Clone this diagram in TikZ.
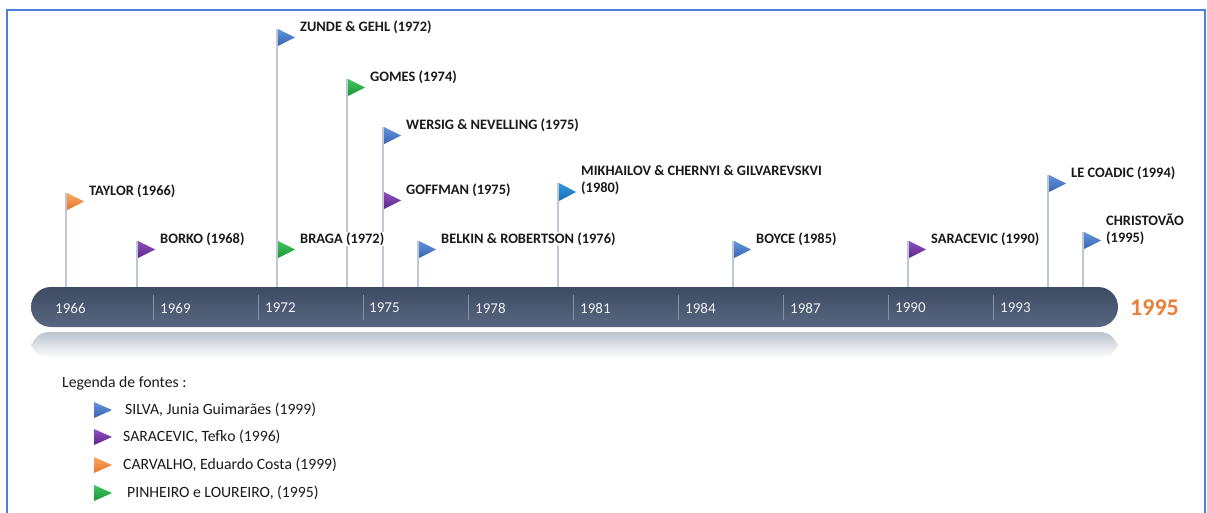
\documentclass[tikz,border=0pt]{standalone}
\usepackage{fontspec}
\setmainfont{Carlito}
\usepackage{xcolor}
\usetikzlibrary{calc, positioning}
\definecolor{cframe}{HTML}{4A7FDE}
\definecolor{cbartop}{HTML}{3D4B63}
\definecolor{cbarbot}{HTML}{58677F}
\definecolor{cbarsep}{HTML}{8491A6}
\definecolor{crefl}{HTML}{BCC3CD}
\definecolor{cpole}{HTML}{BFC7D2}
\definecolor{ctext}{HTML}{1A1A1A}
\definecolor{cyear}{HTML}{EEF1F5}
\definecolor{cend}{HTML}{E8803A}
\definecolor{cblueA}{HTML}{6394DE}
\definecolor{cblueB}{HTML}{3A64B2}
\definecolor{cskyA}{HTML}{2F9AE4}
\definecolor{cskyB}{HTML}{176DB6}
\definecolor{cpurA}{HTML}{9050BE}
\definecolor{cpurB}{HTML}{5E258E}
\definecolor{corgA}{HTML}{F9A865}
\definecolor{corgB}{HTML}{E6742A}
\definecolor{cgrnA}{HTML}{40C660}
\definecolor{cgrnB}{HTML}{1B9638}

\begin{document}
\begin{tikzpicture}[x=1pt, y=-1pt]
    \useasboundingbox (0,0) rectangle (1207,513);
    \begin{scope}[
        pole/.style={draw=cpole, line width=1.4pt},
        barsep/.style={draw=cbarsep, line width=0.8pt},
        flaglabel/.style={anchor=west, fill=white, inner sep=1pt, align=left, font=\fontsize{14.4}{17}\selectfont\bfseries\color{ctext}},
        yearlabel/.style={anchor=west, inner sep=0pt, font=\fontsize{15}{18}\selectfont\color{cyear}},
        legendtext/.style={anchor=west, inner sep=0pt, font=\fontsize{15.7}{18}\selectfont\color{ctext}},
        fblue/.style={top color=cblueA, bottom color=cblueB},
        fsky/.style={top color=cskyA, bottom color=cskyB},
        fpur/.style={top color=cpurA, bottom color=cpurB},
        forg/.style={top color=corgA, bottom color=corgB},
        fgrn/.style={top color=cgrnA, bottom color=cgrnB}
    ]
        % ================= FRAME =================
        \draw[cframe, line width=2pt] (7,513) -- (7,10) -- (1205,10) -- (1205,513);

        % ================= TIME BAR =================
        \shade[top color=crefl, middle color=crefl!25!white, bottom color=white, rounded corners=18pt] (31,332) rectangle (1118,358);
        \node[rounded corners=20pt, minimum width=1087pt, minimum height=40pt, inner sep=0pt, top color=cbartop, bottom color=cbarbot] (bar) at (574.5,307) {};
        \draw[barsep] (153,295) -- (153,320);
        \draw[barsep] (258,295) -- (258,320);
        \draw[barsep] (363,295) -- (363,320);
        \draw[barsep] (468,295) -- (468,320);
        \draw[barsep] (573,295) -- (573,320);
        \draw[barsep] (678,295) -- (678,320);
        \draw[barsep] (783,295) -- (783,320);
        \draw[barsep] (888,295) -- (888,320);
        \draw[barsep] (993,295) -- (993,320);
        \node[yearlabel] (y1966) at (55,308) {1966};
        \node[yearlabel] (y1969) at (160,308) {1969};
        \node[yearlabel] (y1972) at (265,308) {1972};
        \node[yearlabel] (y1975) at (369,308) {1975};
        \node[yearlabel] (y1978) at (475,308) {1978};
        \node[yearlabel] (y1981) at (580,308) {1981};
        \node[yearlabel] (y1984) at (685,308) {1984};
        \node[yearlabel] (y1987) at (790,308) {1987};
        \node[yearlabel] (y1990) at (895,308) {1990};
        \node[yearlabel] (y1993) at (1000,308) {1993};
        \node[anchor=west, inner sep=0pt, font=\fontsize{24}{26}\selectfont\bfseries\color{cend}] (y1995) at (1130,308) {1995};

        % ================= POLES =================
        \coordinate (taylor) at (66,193);
        \coordinate (borko) at (137,241);
        \coordinate (zunde) at (277,29);
        \coordinate (braga) at (277,241);
        \coordinate (gomes) at (347,79);
        \coordinate (wersig) at (383,127);
        \coordinate (goffman) at (383,192);
        \coordinate (belkin) at (418,241);
        \coordinate (mikhailov) at (558,183);
        \coordinate (boyce) at (733,241);
        \coordinate (saracevic) at (908,241);
        \coordinate (lecoadic) at (1048,175);
        \coordinate (christovao) at (1083,232);
        \draw[pole] (taylor) -- (taylor |- bar.north);
        \draw[pole] (borko) -- (borko |- bar.north);
        \draw[pole] (zunde) -- (zunde |- bar.north);
        \draw[pole] (gomes) -- (gomes |- bar.north);
        \draw[pole] (wersig) -- (wersig |- bar.north);
        \draw[pole] (belkin) -- (belkin |- bar.north);
        \draw[pole] (mikhailov) -- (mikhailov |- bar.north);
        \draw[pole] (boyce) -- (boyce |- bar.north);
        \draw[pole] (saracevic) -- (saracevic |- bar.north);
        \draw[pole] (lecoadic) -- (lecoadic |- bar.north);
        \draw[pole] (christovao) -- (christovao |- bar.north);

        % ================= LABELS =================
        \node[flaglabel] (taylor_lbl) at ([xshift=22pt,yshift=2pt]taylor) {TAYLOR (1966)};
        \node[flaglabel] (borko_lbl) at ([xshift=22pt,yshift=2pt]borko) {BORKO (1968)};
        \node[flaglabel] (zunde_lbl) at ([xshift=22pt,yshift=2pt]zunde) {ZUNDE \& GEHL (1972)};
        \node[flaglabel] (braga_lbl) at ([xshift=22pt,yshift=2pt]braga) {BRAGA (1972)};
        \node[flaglabel] (gomes_lbl) at ([xshift=22pt,yshift=2pt]gomes) {GOMES (1974)};
        \node[flaglabel] (wersig_lbl) at ([xshift=22pt,yshift=2pt]wersig) {WERSIG \& NEVELLING (1975)};
        \node[flaglabel] (goffman_lbl) at ([xshift=22pt,yshift=2pt]goffman) {GOFFMAN (1975)};
        \node[flaglabel] (belkin_lbl) at ([xshift=22pt,yshift=2pt]belkin) {BELKIN \& ROBERTSON (1976)};
        \node[flaglabel] (mikhailov_lbl) at ([xshift=22pt,yshift=2.5pt]mikhailov) {MIKHAILOV \& CHERNYI \& GILVAREVSKVI\\(1980)};
        \node[flaglabel] (boyce_lbl) at ([xshift=22pt,yshift=2pt]boyce) {BOYCE (1985)};
        \node[flaglabel] (saracevic_lbl) at ([xshift=22pt,yshift=2pt]saracevic) {SARACEVIC (1990)};
        \node[flaglabel] (lecoadic_lbl) at ([xshift=22pt,yshift=2pt]lecoadic) {LE COADIC (1994)};
        \node[flaglabel] (christovao_lbl) at ([xshift=22pt,yshift=2.5pt]christovao) {CHRISTOVÃO\\(1995)};

        % ================= FLAGS =================
        \path[forg] ([xshift=1pt]taylor) -- ++(17,8.5) -- ++(-17,8.5) -- cycle;
        \path[fpur] ([xshift=1pt]borko) -- ++(17,8.5) -- ++(-17,8.5) -- cycle;
        \path[fblue] ([xshift=1pt]zunde) -- ++(17,8.5) -- ++(-17,8.5) -- cycle;
        \path[fgrn] ([xshift=1pt]braga) -- ++(17,8.5) -- ++(-17,8.5) -- cycle;
        \path[fgrn] ([xshift=1pt]gomes) -- ++(17,8.5) -- ++(-17,8.5) -- cycle;
        \path[fblue] ([xshift=1pt]wersig) -- ++(17,8.5) -- ++(-17,8.5) -- cycle;
        \path[fpur] ([xshift=1pt]goffman) -- ++(17,8.5) -- ++(-17,8.5) -- cycle;
        \path[fblue] ([xshift=1pt]belkin) -- ++(17,8.5) -- ++(-17,8.5) -- cycle;
        \path[fsky] ([xshift=1pt]mikhailov) -- ++(17,9) -- ++(-17,9) -- cycle;
        \path[fblue] ([xshift=1pt]boyce) -- ++(17,8.5) -- ++(-17,8.5) -- cycle;
        \path[fpur] ([xshift=1pt]saracevic) -- ++(17,8.5) -- ++(-17,8.5) -- cycle;
        \path[fblue] ([xshift=1pt]lecoadic) -- ++(17,8.5) -- ++(-17,8.5) -- cycle;
        \path[fblue] ([xshift=1pt]christovao) -- ++(17,8.5) -- ++(-17,8.5) -- cycle;

        % ================= LEGEND =================
        \node[legendtext] (legend_title) at (62,383) {Legenda de fontes :};
        \coordinate (lg_silva) at (94,402);
        \coordinate (lg_saracevic) at (94,429);
        \coordinate (lg_carvalho) at (94,457);
        \coordinate (lg_pinheiro) at (94,485);
        \path[fblue] (lg_silva) -- ++(18,8) -- ++(-18,8) -- cycle;
        \path[fpur] (lg_saracevic) -- ++(18,8) -- ++(-18,8) -- cycle;
        \path[forg] (lg_carvalho) -- ++(18,8) -- ++(-18,8) -- cycle;
        \path[fgrn] (lg_pinheiro) -- ++(18,8) -- ++(-18,8) -- cycle;
        \node[legendtext] (lg_silva_txt) at (125,410) {SILVA, Junia Guimarães (1999)};
        \node[legendtext] (lg_saracevic_txt) at (123,437) {SARACEVIC, Tefko (1996)};
        \node[legendtext] (lg_carvalho_txt) at (123,465) {CARVALHO, Eduardo Costa (1999)};
        \node[legendtext] (lg_pinheiro_txt) at (127,493) {PINHEIRO e LOUREIRO, (1995)};
    \end{scope}
\end{tikzpicture}
\end{document}
